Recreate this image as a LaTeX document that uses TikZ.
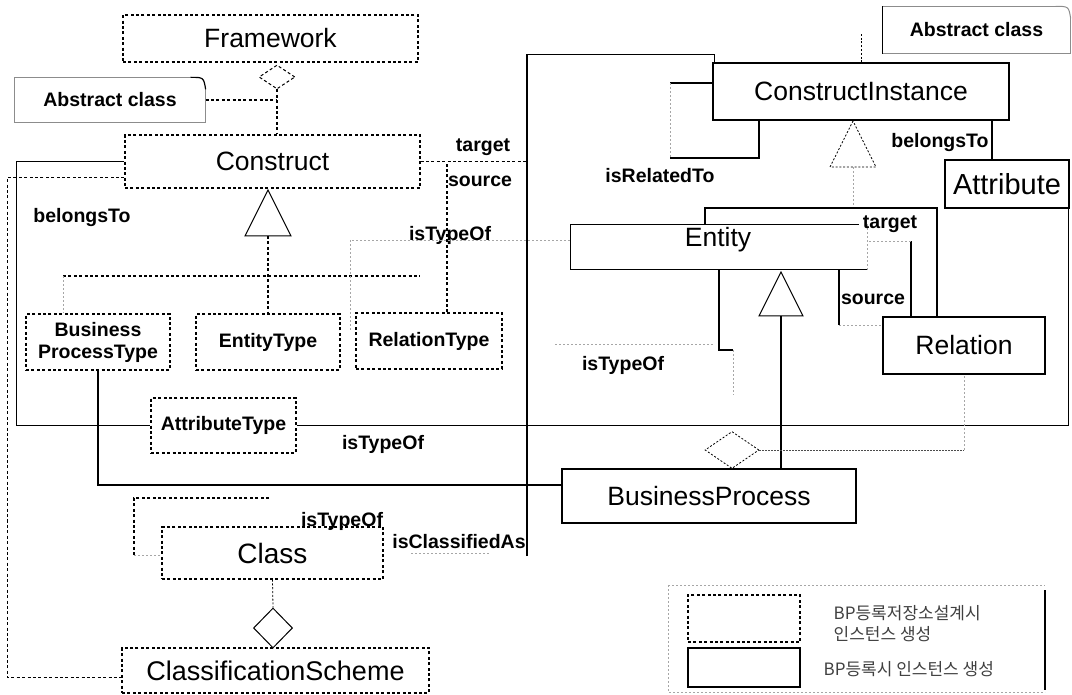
\documentclass[tikz,border=0pt]{standalone}
\usepackage{fontspec}
\setmainfont{Liberation Sans}
\newfontfamily\krfont{Noto Sans CJK KR}
\usetikzlibrary{shapes.geometric}

\begin{document}
\begin{tikzpicture}[x=1pt,y=-1pt,
  line width=1.3pt,
  dsh/.style={dash pattern=on 3pt off 2.4pt},
  dbox/.style={draw, dsh, rectangle, inner sep=0pt},
  sbox/.style={draw, rectangle, inner sep=0pt},
  big/.style={font=\fontsize{26.5}{30}\selectfont},
  small/.style={font=\bfseries\fontsize{19.5}{22}\selectfont},
  lbl/.style={font=\bfseries\fontsize{19.5}{22}\selectfont, inner sep=0pt},
  faint/.style={draw=black!35, line width=0.6pt, dash pattern=on 2pt off 2pt},
  thindash/.style={line width=0.8pt, dash pattern=on 2pt off 1.8pt},
  agg/.style={diamond, draw, inner sep=0pt, fill=white},
  kr/.style={font=\krfont\fontsize{17}{20}\selectfont, text=black!75, inner sep=0pt, anchor=west},
  ]
\useasboundingbox (0,0) rectangle (1072,695);

% ---------- meta level (types) ----------
\node[dbox, big, minimum width=295, minimum height=47] (fw) at (270.5,38.5) {Framework};
\node[dbox, big, minimum width=295, minimum height=53] (con) at (272.5,161.5) {Construct};
\node[small, minimum width=190, minimum height=44, inner sep=0pt] (noteL) at (110,100) {Abstract class};
\node[dbox, small, align=center, minimum width=144, minimum height=56] (bpt) at (98,342) {Business\\ProcessType};
\node[dbox, small, minimum width=144, minimum height=56] (et) at (268,342) {EntityType};
\node[dbox, small, minimum width=146, minimum height=56] (rt) at (429,341) {RelationType};
\node[dbox, small, minimum width=145, minimum height=55] (at) at (223.5,425.5) {AttributeType};
\node[dbox, font=\fontsize{28}{30}\selectfont, minimum width=221, minimum height=52] (cls) at (272.5,553) {Class};
\node[dbox, font=\fontsize{27}{30}\selectfont, minimum width=307, minimum height=45] (cs) at (275.5,670.5) {ClassificationScheme};

% ---------- instance level ----------
\node[sbox, big, minimum width=296, minimum height=57] (ci) at (861,91.5) {ConstructInstance};
\node[small, minimum width=187, minimum height=46, inner sep=0pt] (noteR) at (976.5,30) {Abstract class};
\node[sbox, font=\fontsize{29}{32}\selectfont, minimum width=124, minimum height=48] (attr) at (1007,184) {Attribute};
\node[minimum width=296, minimum height=44, inner sep=0pt] (ent) at (719,247) {};
\node[big, inner sep=0pt] (entT) at (718,240) {Entity};
\node[sbox, big, minimum width=162, minimum height=57] (rel) at (964,345.5) {Relation};
\node[sbox, big, minimum width=294, minimum height=54] (bp) at (709,496) {BusinessProcess};

% Entity outline (right side only faintly visible)
\draw ([xshift=-9pt]ent.north east) -- (ent.north west) -- (ent.south west) -- (ent.south east);
\draw[faint] (ent.north east) -- (ent.south east);

% notes with folded corners
\draw[black!45, line width=0.8pt] ([xshift=-15pt]noteL.north east) -- (noteL.north west) -- (noteL.south west) -- (noteL.south east) -- ([yshift=-12pt]noteL.north east);
\draw[line width=1.2pt] ([xshift=-15pt]noteL.north east) .. controls ([xshift=-2pt]noteL.north east) .. ([yshift=-12pt]noteL.north east);
\draw[black!45, line width=0.8pt] ([xshift=-15pt]noteR.north east) -- (noteR.north west) (noteR.south west) -- (noteR.south east) -- ([yshift=-12pt]noteR.north east);
\draw[line width=1pt] (noteR.north west) -- (noteR.south west);
\draw[black!45, line width=1pt] ([xshift=-15pt]noteR.north east) .. controls ([xshift=-2pt]noteR.north east) .. ([yshift=-12pt]noteR.north east);

% ---------- Framework aggregates Construct ----------
\node[agg, dsh, line width=1pt, minimum width=36, minimum height=24] (dA) at (277,77) {};
\draw[dsh] (dA.south) -- (dA.south |- con.north);
\draw[dsh] (noteL.east) -- (noteL.east -| dA.south);

% Construct -> AttributeType, Construct -> ClassificationScheme
\draw (con.west) -- ++(-108,0) |- (at.west);
\draw[dsh] ([yshift=-16pt]con.west) -- ++(-117,0) |- ([yshift=-7pt]cs.west);
\node[lbl] (lBelongsL) at (82,218) {belongsTo};

% generalisation of Construct
\coordinate (t1) at (268,190);
\coordinate (t1b) at (268,236);
\draw[line width=1pt] (t1) -- ++(-23,46) -- ++(46,0) -- cycle;
\draw[dsh] (t1b) -- (et.north);
\coordinate (hl) at (63,276);
\coordinate (hr) at (420,276);
\draw[dsh] (hl) -- (hr);
\draw[faint] (hl) -- (hl |- bpt.north);

% Construct target / source / isTypeOf
\coordinate (bigL) at (527,161.5);
\draw[dsh] (con.east) -- (bigL);
\node[lbl] (lTargetL) at (483,147) {target};
\draw[dsh] ([xshift=18pt]rt.north) -- ([xshift=18pt]rt.north |- con.east);
\node[lbl] (lSourceL) at (480,181) {source};
\node[lbl] (lIsTypeOfR) at (450,235) {isTypeOf};
\coordinate (rtf) at (350,330);
\draw[faint] (rtf) |- ([yshift=7pt]ent.west);

% AttributeType line to instance area
\draw (at.east) -| ([xshift=-1pt]attr.south east);
\node[lbl] (lIsTypeOfA) at (383,444) {isTypeOf};

% long vertical connector into ConstructInstance
\coordinate (vEnd) at (527,556);
\draw (vEnd) |- ([xshift=2pt,yshift=8pt]ci.north west) -- ([xshift=2pt]ci.north west);
\coordinate (icl) at (411,553);
\draw[faint] (icl) -- ++(78,0);
\node[lbl] (lClassified) at (459,542) {isClassifiedAs};

% BusinessProcessType -> BusinessProcess
\draw (bpt.south) |- ([yshift=11pt]bp.west);

% ---------- ConstructInstance relations ----------
\draw[thindash] (ci.north) -- ++(0,-30);
\coordinate (rl1) at (670,83);
\coordinate (rl2) at (670,158);
\draw ([yshift=8.5pt]ci.west) -- (rl1);
\draw[faint] (rl1) -- (rl2);
\draw (rl2) -| ([xshift=-102pt]ci.south);
\node[lbl] (lRelated) at (660,176) {isRelatedTo};

\draw ([xshift=131pt]ci.south) -- ([xshift=131pt]ci.south |- attr.north);
\node[lbl] (lBelongsR) at (940,143) {belongsTo};

% generalisation of ConstructInstance
\coordinate (t2) at (853,121);
\coordinate (t2b) at (853,167);
\coordinate (t2j) at (853,208);
\draw[thindash] (t2) -- ++(-23,46) -- ++(46,0) -- cycle;
\draw[faint] (t2b) -- (t2j);
\draw ([xshift=-14pt]ent.north) |- (t2j) -| ([xshift=-27pt]rel.north);

% Relation target / source
\coordinate (tg) at (911,241);
\draw ([xshift=-53pt]rel.north) -- (tg);
\draw[faint] (tg) -- ([yshift=6pt]ent.east);
\node[lbl] (lTargetR) at (890,224) {target};
\coordinate (sr) at (839,325);
\draw ([xshift=120pt]ent.south) -- (sr);
\draw[faint] (sr) -- ([yshift=20.5pt]rel.west);
\node[lbl] (lSourceR) at (873,299) {source};

% generalisation of Entity
\coordinate (t3) at (781,272);
\coordinate (t3b) at (781,316);
\draw[line width=1pt] (t3) -- ++(-22,44) -- ++(44,0) -- cycle;
\draw (t3b) -- ([xshift=72pt]bp.north);

% Entity isTypeOf
\coordinate (ei1) at (719,350);
\coordinate (ei2) at (733,350);
\draw (ent.south) -- (ei1) -- (ei2);
\draw[faint] (ei2) -- ++(0,45);
\coordinate (ei3) at (555,344);
\draw[faint] (ei3) -- ++(158,0);
\node[lbl] (lIsTypeOfE) at (623,365) {isTypeOf};

% BusinessProcess aggregates Relation
\node[agg, thindash, minimum width=54, minimum height=37] (dB) at (732,450) {};
\coordinate (dBr) at (964,450);
\draw[black!70, line width=0.7pt, dash pattern=on 1.5pt off 1.5pt] (dB.east) -- (dBr);
\draw[faint] (dBr) -- (rel.south);

% ---------- Class / ClassificationScheme ----------
\coordinate (cl1) at (269,498);
\coordinate (cl2) at (134,498);
\draw[dsh] (cl1) -- (cl2) -- ++(0,57);
\draw[faint] (134,555) -- ([yshift=-2pt]cls.west);
\node[lbl] (lIsTypeOfC) at (342,521) {isTypeOf};
\node[agg, line width=1pt, minimum width=39, minimum height=40] (dC) at (273,628) {};
\draw[thindash] (cls.south) -- (dC.north);

% ---------- legend ----------
\coordinate (lg1) at (668,585);
\coordinate (lg2) at (1045,692);
\draw[faint] (lg1) -- (lg1 -| lg2) (lg1) -- (lg1 |- lg2) -- (lg2);
\draw[line width=1.8pt] (1045,590) -- (1045,690);
\node[dbox, minimum width=112, minimum height=47] (legD) at (744,618.5) {};
\node[sbox, minimum width=112, minimum height=39] (legS) at (744,667.5) {};
\node[kr] (legT1) at (833,613) {BP등록저장소설계시};
\node[kr] (legT2) at (833,634) {인스턴스 생성};
\node[kr] (legT3) at (823,669) {BP등록시 인스턴스 생성};
\end{tikzpicture}
\end{document}
